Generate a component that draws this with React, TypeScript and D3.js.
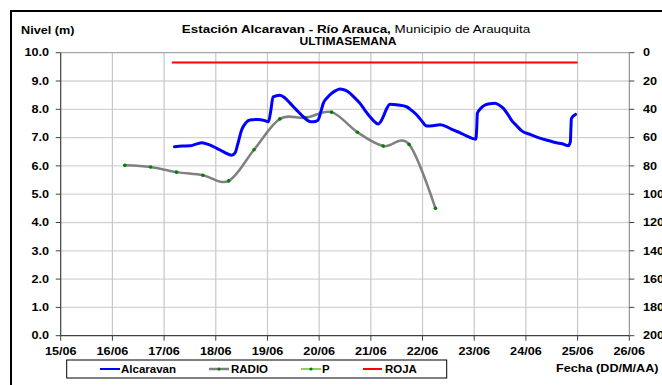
import React from 'react';
import * as d3 from 'd3';

const dayLabels = ['15/06', '16/06', '17/06', '18/06', '19/06', '20/06', '21/06', '22/06', '23/06', '24/06', '25/06', '26/06'];
const dayValues = [15, 16, 17, 18, 19, 20, 21, 22, 23, 24, 25, 26];
const levelTicks = [0, 1, 2, 3, 4, 5, 6, 7, 8, 9, 10];
const rightTicks = [0, 20, 40, 60, 80, 100, 120, 140, 160, 180, 200];

const alcaravanDays = [17.20, 17.35, 17.50, 17.62, 17.73, 17.88, 18.02, 18.17, 18.31, 18.37, 18.43, 18.50, 18.58, 18.66, 18.80, 18.95, 19.02, 19.06, 19.11, 19.24, 19.34, 19.44, 19.56, 19.69, 19.78, 19.85, 19.94, 19.98, 20.03, 20.08, 20.16, 20.24, 20.32, 20.40, 20.48, 20.56, 20.68, 20.79, 20.88, 20.98, 21.06, 21.14, 21.19, 21.24, 21.30, 21.37, 21.53, 21.69, 21.79, 21.89, 21.98, 22.08, 22.20, 22.34, 22.47, 22.59, 22.72, 22.85, 23.03, 23.05, 23.06, 23.12, 23.21, 23.30, 23.40, 23.48, 23.56, 23.64, 23.72, 23.82, 23.92, 24.10, 24.27, 24.43, 24.59, 24.70, 24.82, 24.86, 24.87, 24.88, 24.96];
const alcaravanLevels = [6.68, 6.70, 6.71, 6.77, 6.82, 6.74, 6.62, 6.48, 6.38, 6.45, 6.80, 7.27, 7.52, 7.62, 7.64, 7.60, 7.56, 7.90, 8.44, 8.50, 8.40, 8.21, 7.98, 7.74, 7.60, 7.56, 7.58, 7.62, 7.90, 8.21, 8.42, 8.56, 8.66, 8.72, 8.69, 8.62, 8.42, 8.21, 7.98, 7.74, 7.58, 7.48, 7.56, 7.74, 8.00, 8.18, 8.15, 8.09, 7.96, 7.80, 7.60, 7.41, 7.42, 7.45, 7.38, 7.27, 7.18, 7.06, 6.94, 7.40, 7.86, 8.02, 8.15, 8.20, 8.21, 8.15, 8.04, 7.85, 7.62, 7.42, 7.24, 7.10, 6.98, 6.90, 6.82, 6.78, 6.71, 6.86, 7.30, 7.68, 7.82];

const radioDays = [16.24, 16.74, 17.24, 17.75, 18.25, 18.74, 19.24, 19.74, 20.24, 20.74, 21.24, 21.74, 22.25];
const radioLevels = [6.02, 5.96, 5.78, 5.67, 5.47, 6.57, 7.66, 7.70, 7.90, 7.19, 6.70, 6.76, 4.50];

const rojaDays = [17.15, 25.0];
const rojaLevels = [9.65, 9.65];

const seriesNames = ['Alcaravan', 'RADIO', 'P', 'ROJA'];
const seriesColors = ['#0000ff', '#808080', '#92d050', '#ff0000'];

const FONT = '"Liberation Sans", Arial, sans-serif';

function T(props: any) {
  const { x, y, anchor = 'start', size = 11, weight = 'bold', sx = 1.15, children, fill = '#000' } = props;
  return (
    <text
      transform={`translate(${x},${y}) scale(${sx},1)`}
      textAnchor={anchor}
      dominantBaseline="central"
      fontFamily={FONT}
      fontSize={size}
      fontWeight={weight}
      fill={fill}
    >
      {children}
    </text>
  );
}

export default function App() {
  const W = 662;
  const H = 385;
  const x0 = 60.7, x1 = 629.3, yTop = 52.7, yBot = 335.7;
  const x = d3.scaleLinear().domain([15, 26]).range([x0, x1]);
  const y = d3.scaleLinear().domain([0, 10]).range([yBot, yTop]);
  const y2 = d3.scaleLinear().domain([0, 200]).range([yTop, yBot]);

  const alcaravan = alcaravanDays.map((d, i) => [d, alcaravanLevels[i]] as [number, number]);
  const radio = radioDays.map((d, i) => [d, radioLevels[i]] as [number, number]);
  const roja = rojaDays.map((d, i) => [d, rojaLevels[i]] as [number, number]);

  const lineMono = d3.line<[number, number]>().x(d => x(d[0])).y(d => y(d[1])).curve(d3.curveMonotoneX);
  const lineCard = d3.line<[number, number]>().x(d => x(d[0])).y(d => y(d[1])).curve(d3.curveCardinal.tension(0));
  const lineStraight = d3.line<[number, number]>().x(d => x(d[0])).y(d => y(d[1]));

  const legendY = 369;
  const legendItems = [
    { x1: 100, x2: 120, tx: 121, dot: false },
    { x1: 209, x2: 229, tx: 231, dot: true },
    { x1: 301, x2: 321, tx: 322, dot: true },
    { x1: 363, x2: 382, tx: 385, dot: false },
  ];

  return (
    <div style={{ position: 'absolute', left: 0, top: 0 }}>
      <svg width={W} height={H} style={{ display: 'block', background: '#fff' }}>
        <rect x={0} y={0} width={W} height={H} fill="#fff" />
        <rect x={11} y={11} width={700} height={400} fill="none" stroke="#000" strokeWidth={2} />

        {/* grid */}
        {levelTicks.slice(1, -1).map(v => (
          <line key={'h' + v} x1={x0} x2={x1} y1={y(v)} y2={y(v)} stroke="#d4d4d4" strokeWidth={1.3} />
        ))}
        {dayValues.slice(1, -1).map(d => (
          <line key={'v' + d} x1={x(d)} x2={x(d)} y1={yTop} y2={yBot} stroke="#c8c8c8" strokeWidth={1.2} />
        ))}
        {/* plot frame */}
        <line x1={x0} x2={x1} y1={yTop} y2={yTop} stroke="#909090" strokeWidth={1} />
        <line x1={x1} x2={x1} y1={yTop} y2={yBot} stroke="#808080" strokeWidth={1} />
        <line x1={x0} x2={x0} y1={yTop} y2={yBot} stroke="#404040" strokeWidth={1.2} />
        <line x1={x0} x2={x1} y1={yBot} y2={yBot} stroke="#404040" strokeWidth={1.2} />

        {/* ticks */}
        {levelTicks.map(v => (
          <line key={'lt' + v} x1={x0 - 5} x2={x0} y1={y(v)} y2={y(v)} stroke="#404040" strokeWidth={1} />
        ))}
        {rightTicks.map(v => (
          <line key={'rt' + v} x1={x1} x2={x1 + 5} y1={y2(v)} y2={y2(v)} stroke="#404040" strokeWidth={1} />
        ))}
        {dayValues.map(d => (
          <line key={'bt' + d} x1={x(d)} x2={x(d)} y1={yBot} y2={yBot + 5} stroke="#404040" strokeWidth={1} />
        ))}

        {/* series */}
        <path d={lineStraight(roja) || ''} fill="none" stroke={seriesColors[3]} strokeWidth={2} />
        <path d={lineCard(radio) || ''} fill="none" stroke={seriesColors[1]} strokeWidth={2.5} />
        {radio.map((d, i) => (
          <circle key={'rp' + i} cx={x(d[0])} cy={y(d[1])} r={1.8} fill="#008000" />
        ))}
        <path d={lineMono(alcaravan) || ''} fill="none" stroke={seriesColors[0]} strokeWidth={3} strokeLinejoin="round" strokeLinecap="round" />

        {/* axis labels */}
        {levelTicks.map(v => (
          <T key={'ll' + v} x={49} y={y(v)} anchor="end">{v.toFixed(1)}</T>
        ))}
        {rightTicks.map(v => (
          <T key={'rl' + v} x={643} y={y2(v)}>{String(v)}</T>
        ))}
        {dayValues.map((d, i) => (
          <T key={'bl' + d} x={x(d)} y={351.7} anchor="middle">{dayLabels[i]}</T>
        ))}

        {/* titles */}
        <T x={21} y={30}>Nivel (m)</T>
        <text
          transform="translate(356,29) scale(1.22,1)"
          textAnchor="middle"
          dominantBaseline="central"
          fontFamily={FONT}
          fontSize={11}
        >
          <tspan fontWeight="bold">Estación Alcaravan - Río Arauca,</tspan>
          <tspan fontWeight="normal"> Municipio de Arauquita</tspan>
        </text>
        <T x={348} y={41} anchor="middle" size={10.5}>ULTIMASEMANA</T>
        <T x={556} y={368}>Fecha (DD/M/AA)</T>

        {/* legend */}
        <rect x={66.7} y={360} width={380} height={18} fill="#fff" stroke="#000" strokeWidth={1} />
        {legendItems.map((it, i) => (
          <g key={'lg' + i}>
            <line x1={it.x1} x2={it.x2} y1={legendY} y2={legendY} stroke={seriesColors[i]} strokeWidth={i === 1 ? 2.5 : 2} />
            {it.dot && <circle cx={(it.x1 + it.x2) / 2} cy={legendY} r={1.6} fill="#008000" />}
            <T x={it.tx} y={legendY} size={10}>{seriesNames[i]}</T>
          </g>
        ))}
      </svg>
    </div>
  );
}
